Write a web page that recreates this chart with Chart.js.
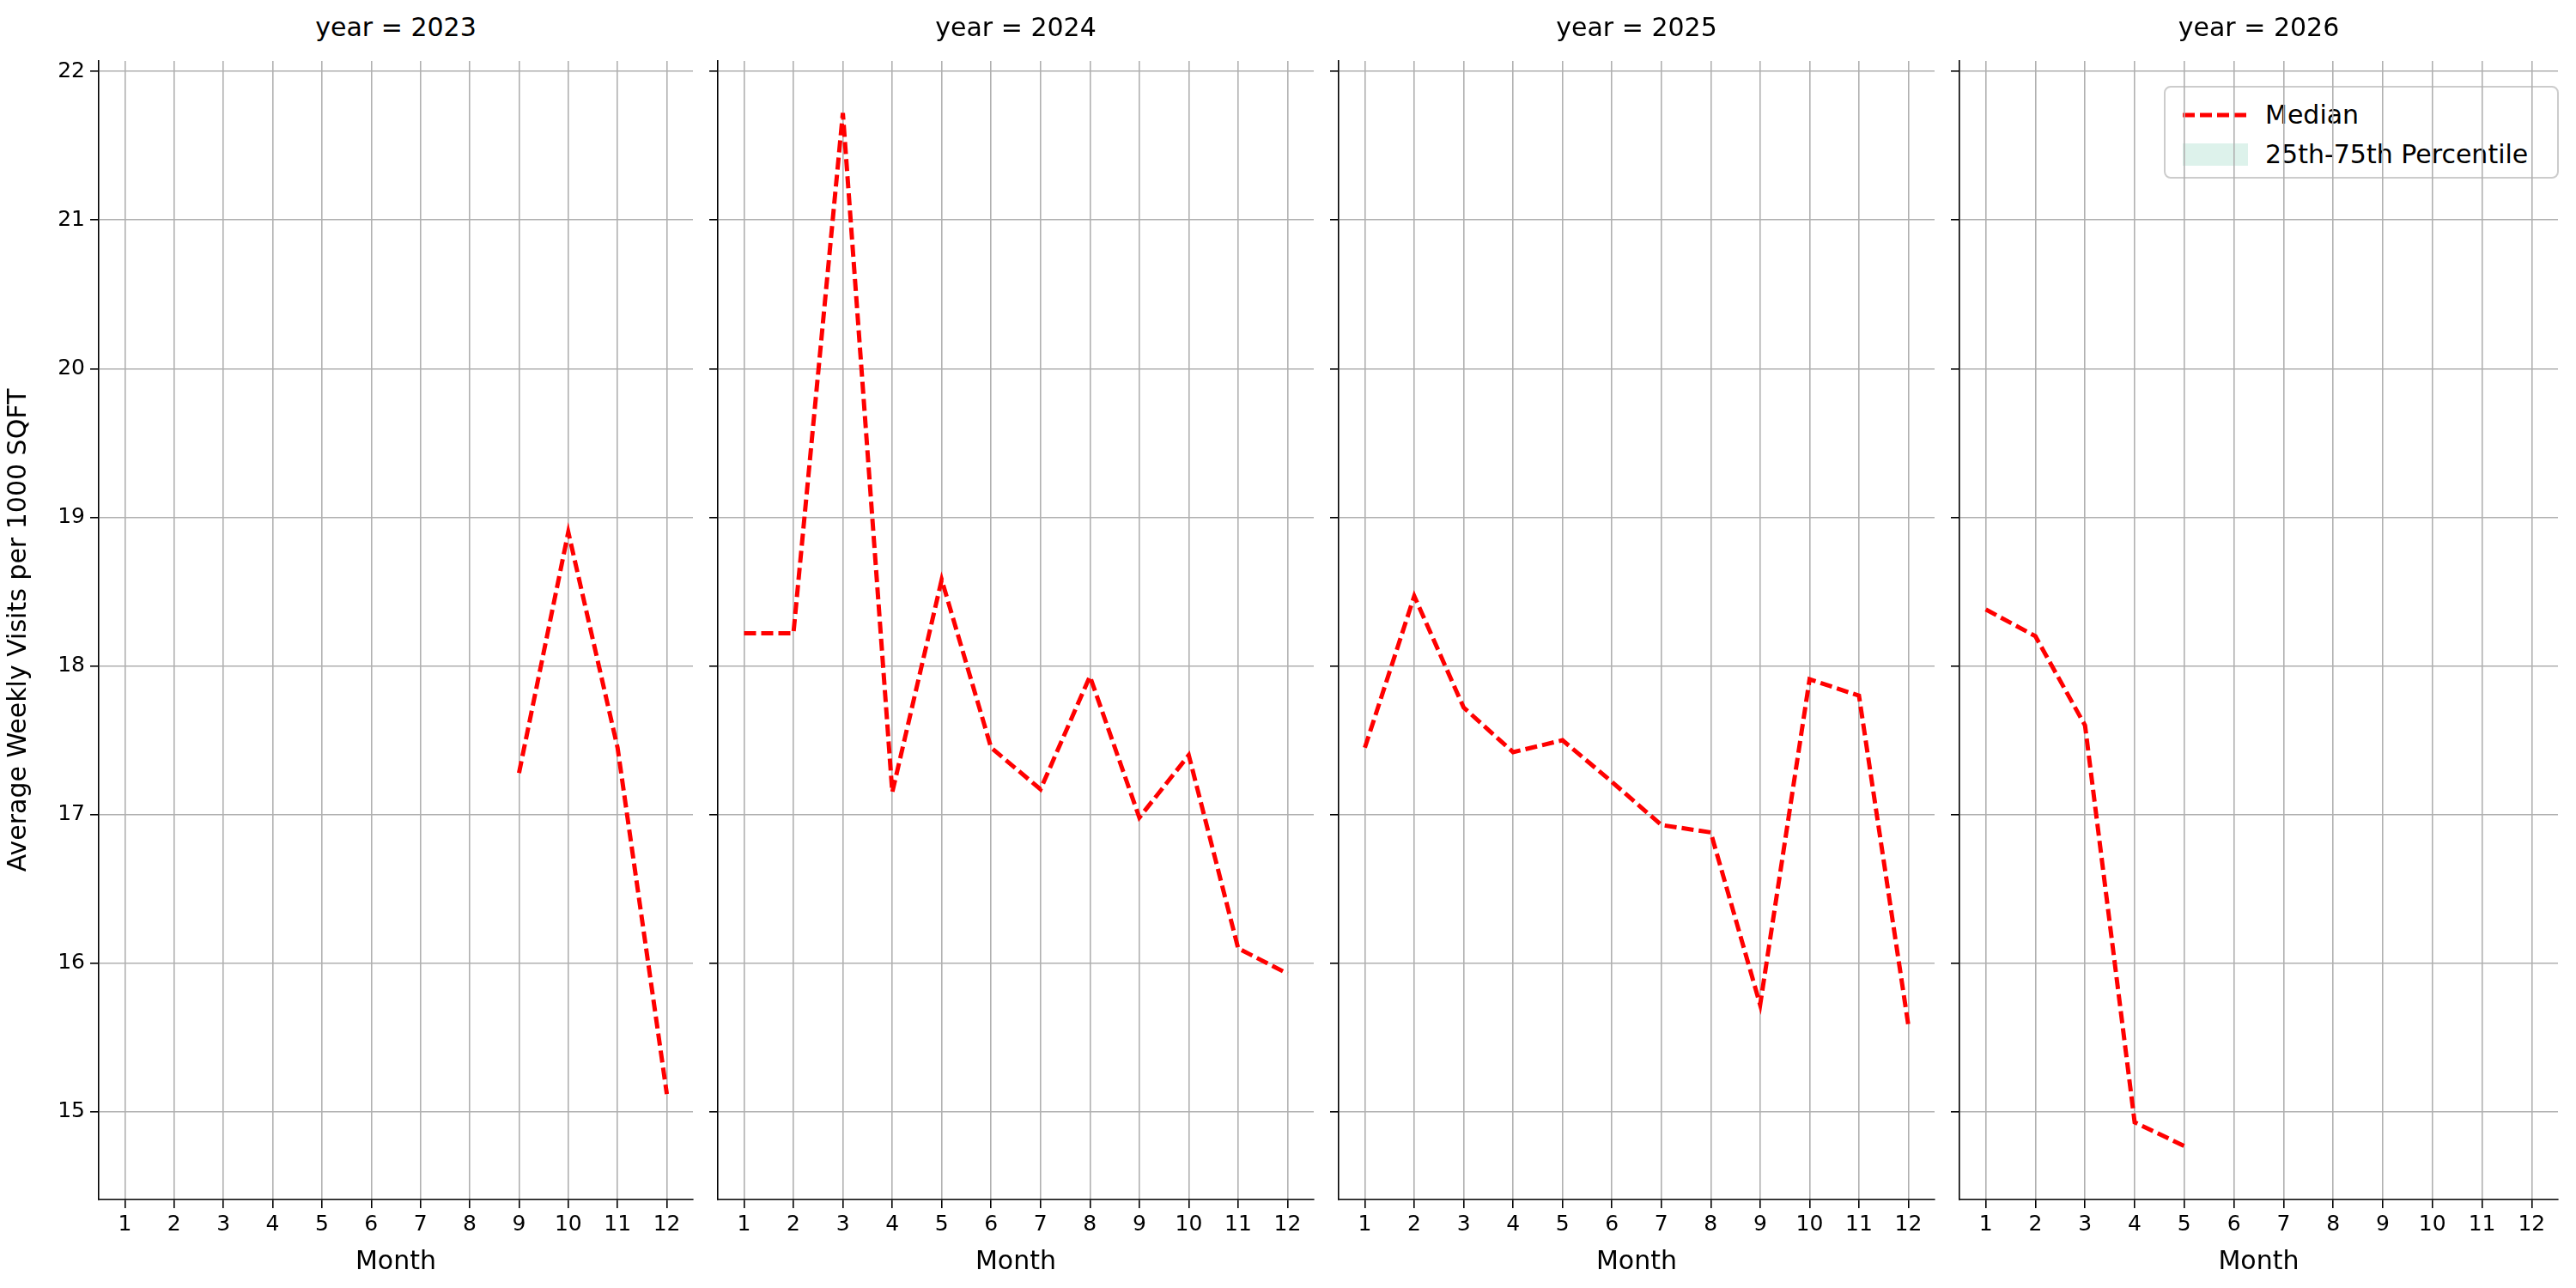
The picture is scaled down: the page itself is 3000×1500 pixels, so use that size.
<!DOCTYPE html>
<html><head><meta charset="utf-8">
<script src="https://cdn.jsdelivr.net/npm/chart.js@4"></script>
<style>
body{margin:0;background:#fff;width:3000px;height:1500px;position:relative;overflow:hidden;font-family:"DejaVu Sans";}
.wrap{position:absolute;top:50px;height:1442px;}
.ttl{position:absolute;top:14px;font-size:30px;color:#000;text-align:center;}
#legend{position:absolute;left:2520px;top:100px;width:460px;height:108px;border:2px solid #ccc;border-radius:8px;background:#fff;font-size:30px;box-sizing:border-box;}
</style></head><body>
<div id="legend">
<div style="position:absolute;left:20px;top:14px;display:flex;align-items:center"><svg width="76" height="20"><line x1="0" y1="10" x2="76" y2="10" stroke="red" stroke-width="5" stroke-dasharray="14,6"/></svg><span style="margin-left:20px">Median</span></div>
<div style="position:absolute;left:20px;top:60px;display:flex;align-items:center"><div style="width:76px;height:26px;background:rgba(102,194,165,0.22)"></div><span style="margin-left:20px">25th-75th Percentile</span></div>
</div>
<script>
const months=[1,2,3,4,5,6,7,8,9,10,11,12];
const years=[2023,2024,2025,2026];
const median2023=[null,null,null,null,null,null,null,null,17.28,18.9,17.45,15.12];
const median2024=[18.22,18.22,21.72,17.15,18.58,17.45,17.17,17.93,16.98,17.4,16.1,15.93];
const median2025=[17.45,18.47,17.72,17.42,17.5,17.22,16.93,16.88,15.72,17.91,17.8,15.58];
const median2026=[18.38,18.2,17.6,14.93,14.77,null,null,null,null,null,null,null];
const series=[median2023,median2024,median2025,median2026];
const plotL=[115,836,1559,2282], plotW=[692,694,694,697];
years.forEach((yr,i)=>{
  const axW=i===0?115:14;
  const w=document.createElement('div');w.className='wrap';
  w.style.left=(plotL[i]-axW)+'px';w.style.width=(plotW[i]+axW+20)+'px';
  const c=document.createElement('canvas');w.appendChild(c);document.body.appendChild(w);
  const t=document.createElement('div');t.className='ttl';t.textContent='year = '+yr;
  t.style.left=plotL[i]+'px';t.style.width=plotW[i]+'px';document.body.appendChild(t);
  new Chart(c,{type:'line',
    data:{datasets:[{data:months.map((m,k)=>({x:m,y:series[i][k]})),borderColor:'red',borderWidth:5,borderDash:[14,6],pointRadius:0,fill:false,spanGaps:false,tension:0}]},
    options:{responsive:true,maintainAspectRatio:false,animation:false,
      layout:{padding:{top:7,right:20,left:0,bottom:0}},
      plugins:{legend:{display:false},tooltip:{enabled:false}},
      scales:{
        x:{type:'linear',min:0.47,max:12.53,afterFit:s=>{s.height=95},
          afterBuildTicks:s=>{s.ticks=months.map(v=>({value:v}))},
          ticks:{font:{size:25,family:'DejaVu Sans'},color:'#000',callback:v=>v,autoSkip:false,maxRotation:0,padding:4},
          grid:{color:'#b0b0b0',lineWidth:1.6,tickLength:10,tickColor:'#000'},
          border:{color:'#000',width:1.6},
          title:{display:true,text:'Month',font:{size:30,family:'DejaVu Sans'},color:'#000',padding:{top:0}}},
        y:{min:14.41,max:22.07,afterFit:s=>{s.width=axW},
          afterBuildTicks:s=>{s.ticks=[15,16,17,18,19,20,21,22].map(v=>({value:v}))},
          ticks:{font:{size:25,family:'DejaVu Sans'},color:'#000',callback:v=>i===0?v:'',padding:6},
          grid:{color:'#b0b0b0',lineWidth:1.6,tickLength:10,tickColor:'#000'},
          border:{color:'#000',width:1.6},
          title:{display:i===0,text:'Average Weekly Visits per 1000 SQFT',font:{size:30,family:'DejaVu Sans'},color:'#000',padding:{bottom:4}}}
      }}});
});
</script></body></html>
